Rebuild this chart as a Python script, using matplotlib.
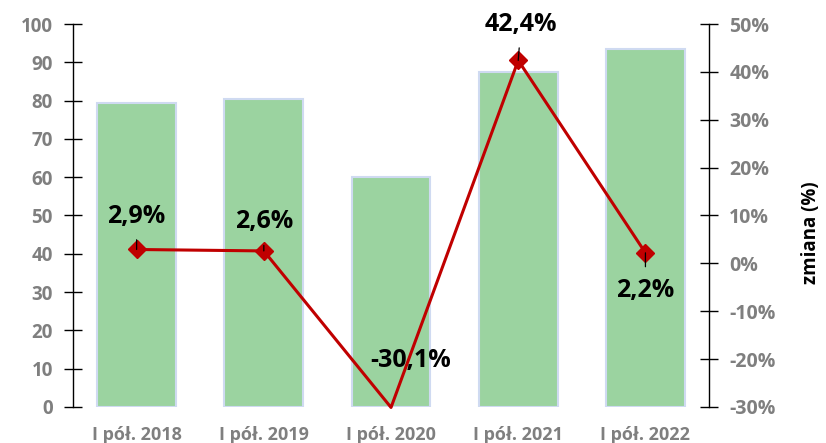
import matplotlib.pyplot as plt
from matplotlib.ticker import FuncFormatter

categories = ["I pół. 2018", "I pół. 2019", "I pół. 2020", "I pół. 2021", "I pół. 2022"]
values = [79.5, 80.5, 60.0, 87.5, 93.5]
change = [2.9, 2.6, -30.1, 42.4, 2.2]
# label offsets (points) relative to each marker, and whether a leader line shows
label_offsets = [(0, 24), (0, 21), (14, 34), (2, 26), (0, -27)]
leaders = [True, True, False, True, True]

plt.rcParams['font.family'] = ['Open Sans', 'DejaVu Sans']
plt.rcParams['font.weight'] = 'bold'

fig = plt.figure(figsize=(8.26, 4.43), dpi=100)
ax = fig.add_axes([0.0884, 0.0813, 0.770, 0.8645])

x = list(range(len(categories)))
ax.bar(x, values, width=0.62, color='#9bd3a0', edgecolor='#cfdaf1', linewidth=1.5, zorder=1)
ax.set_xlim(-0.5, 4.5)
ax.set_ylim(0, 100)
ax.set_yticks(range(0, 101, 10))
ax.set_xticks(x)
ax.set_xticklabels(categories)

for s in ['top', 'right', 'bottom']:
    ax.spines[s].set_visible(False)
ax.spines['left'].set_linewidth(1)
ax.tick_params(axis='y', direction='inout', length=13, width=1, pad=8,
               labelsize=13.5, labelcolor='#7f7f7f')
ax.tick_params(axis='x', length=0, pad=14, labelsize=13, labelcolor='#7f7f7f')

ax2 = ax.twinx()
ax2.set_ylim(-30, 50)
ax2.set_yticks(range(-30, 51, 10))
ax2.yaxis.set_major_formatter(FuncFormatter(lambda v, p: f"{int(v)}%"))
for s in ['top', 'left', 'bottom']:
    ax2.spines[s].set_visible(False)
ax2.spines['right'].set_linewidth(1)
ax2.tick_params(axis='y', direction='inout', length=13, width=1, pad=8,
                labelsize=14, labelcolor='#7f7f7f')
ax2.set_ylabel("zmiana (%)", fontsize=13.5, fontweight='bold', color='black')
ax2.yaxis.set_label_coords(1.145, 0.455)

ax2.plot(x, change, color='#c00000', linewidth=2.2, marker='D', markersize=9.5,
         markevery=[0, 1, 3, 4], clip_on=False,
         markerfacecolor='#c00000', markeredgecolor='#c00000', zorder=3)

for xi, c, off, lead in zip(x, change, label_offsets, leaders):
    txt = f"{c:.1f}%".replace('.', ',')
    arrow = dict(arrowstyle='-', color='black', lw=0.9, shrinkA=6, shrinkB=0) if lead else None
    ax2.annotate(txt, xy=(xi, c), xytext=off, textcoords='offset points',
                 ha='center', va='center', fontsize=18, fontweight='bold', color='black',
                 arrowprops=arrow, zorder=4, annotation_clip=False)

fig.savefig("out.png", dpi=100)
